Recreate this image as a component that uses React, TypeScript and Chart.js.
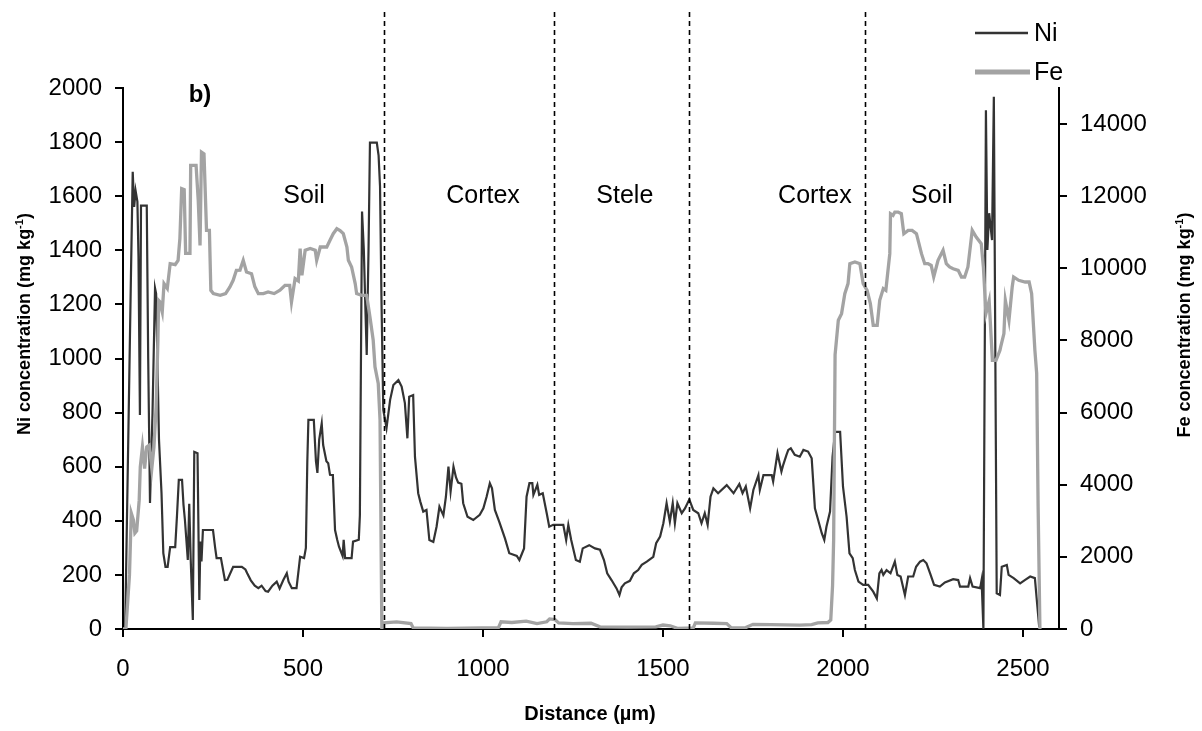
import React, { useEffect, useRef } from "react";
import { Chart, registerables } from "chart.js";

Chart.register(...registerables);

const FAMILY = '"Liberation Sans", Arial, Helvetica, sans-serif';

// ---- Data (distance in µm) ----
const niDistance = [
  0, 6, 22, 27, 31, 35, 40, 43, 47, 50, 66, 70, 75, 82, 89, 92, 100, 107, 112, 118, 124, 131, 145, 150, 155, 164,
  168, 172, 176, 180, 184, 188, 194, 198, 207, 212, 215, 218, 222, 250, 256, 260, 272, 283, 290, 306, 330, 340, 345,
  355, 366, 376, 385, 396, 403, 415, 427, 435, 445, 455, 460, 469, 482, 488, 492, 503, 508, 512, 515, 530, 536, 540,
  545, 552, 556, 565, 570, 575, 583, 589, 595, 600, 610, 613, 617, 635, 639, 655, 658, 661, 664, 669, 673, 677, 682,
  686, 705, 710, 714, 718, 723, 732, 742, 751, 765, 774, 783, 790, 795, 806, 811, 820, 826, 834, 843, 851, 862, 871,
  879, 890, 897, 904, 910, 918, 925, 931, 940, 945, 957, 973, 991, 1001, 1010, 1019, 1025, 1033, 1045, 1061, 1073,
  1094, 1101, 1114, 1121, 1129, 1137, 1140, 1151, 1156, 1166, 1177, 1184, 1195, 1223, 1231, 1237, 1245, 1258, 1269,
  1277, 1295, 1311, 1325, 1336, 1345, 1357, 1371, 1379, 1385, 1394, 1408, 1419, 1431, 1441, 1455, 1473, 1481, 1492,
  1501, 1510, 1519, 1527, 1533, 1540, 1552, 1561, 1573, 1584, 1598, 1607, 1616, 1624, 1632, 1640, 1653, 1677, 1696,
  1712, 1721, 1730, 1742, 1751, 1765, 1769, 1779, 1802, 1806, 1818, 1829, 1834, 1843, 1848, 1855, 1866, 1880, 1890,
  1903, 1913, 1922, 1931, 1941, 1948, 1954, 1964, 1971, 1978, 1992, 2000, 2010, 2018, 2027, 2033, 2043, 2056, 2070,
  2084, 2094, 2101, 2107, 2112, 2121, 2132, 2144, 2151, 2160, 2172, 2181, 2195, 2203, 2214, 2223, 2232, 2242, 2253,
  2269, 2283, 2306, 2320, 2325, 2348, 2353, 2360, 2381, 2385, 2390, 2397, 2401, 2406, 2414, 2419, 2427, 2436, 2441,
  2455, 2460, 2474, 2492, 2505, 2520, 2533, 2540, 2545,
];
const niValues = [
  0, 0, 1300, 1690, 1560, 1620, 1580, 1376, 791, 1565, 1565, 1000, 466, 800, 1260, 1240, 699, 502, 280, 230, 230, 303,
  303, 420, 551, 551, 460, 403, 330, 255, 463, 260, 33, 655, 650, 107, 323, 250, 366, 366, 300, 262, 262, 181, 182,
  230, 230, 220, 206, 180, 160, 151, 160, 140, 138, 160, 175, 150, 180, 206, 175, 151, 151, 220, 267, 262, 300, 620,
  773, 773, 620, 577, 700, 760, 680, 620, 613, 570, 569, 366, 330, 304, 270, 330, 262, 262, 323, 330, 420, 1000, 1543,
  1400, 1200, 1013, 1400, 1798, 1798, 1750, 1635, 1216, 810, 743, 847, 902, 920, 896, 835, 705, 859, 865, 637, 502,
  470, 434, 440, 329, 322, 378, 452, 420, 489, 600, 508, 600, 560, 541, 537, 465, 415, 403, 422, 446, 489, 539, 520,
  440, 397, 335, 280, 270, 255, 298, 489, 539, 539, 496, 533, 496, 502, 428, 378, 385, 385, 329, 385, 329, 255, 249,
  298, 310, 298, 293, 255, 206, 181, 150, 126, 154, 169, 178, 206, 218, 237, 249, 267, 317, 342, 391, 465, 397, 465,
  391, 465, 428, 446, 479, 440, 428, 391, 428, 385, 489, 520, 502, 532, 502, 536, 502, 527, 446, 514, 569, 514, 569,
  569, 545, 650, 582, 607, 644, 662, 668, 644, 637, 662, 656, 631, 446, 403, 354, 329, 378, 434, 637, 729, 729, 526,
  415, 280, 262, 218, 175, 163, 163, 138, 113, 206, 218, 200, 218, 206, 249, 200, 194, 126, 194, 194, 230, 249, 255,
  243, 206, 163, 157, 172, 184, 181, 157, 157, 188, 157, 151, 181, 0, 1918, 1401, 1537, 1438, 1968, 132, 126, 230,
  237, 200, 188, 169, 181, 194, 188, 83, 8,
];

const feDistance = [
  0, 8, 18, 23, 29, 33, 38, 45, 48, 54, 60, 66, 73, 80, 86, 92, 97, 99, 102, 109, 114, 123, 131, 145, 153, 158, 163,
  170, 174, 186, 188, 203, 209, 214, 218, 225, 232, 240, 244, 251, 270, 285, 297, 306, 315, 325, 334, 343, 357, 366,
  376, 390, 403, 420, 436, 450, 463, 468, 478, 487, 492, 497, 506, 520, 534, 538, 548, 566, 575, 584, 594, 603, 612,
  622, 626, 635, 645, 649, 663, 677, 686, 695, 700, 709, 714, 719, 725, 760, 800, 806, 900, 1043, 1050, 1080, 1120,
  1150, 1177, 1185, 1200, 1210, 1250, 1300, 1325, 1400, 1480, 1500, 1520, 1540, 1584, 1590, 1640, 1677, 1690, 1730,
  1750, 1800, 1880, 1913, 1930, 1958, 1966, 1971, 1974, 1978, 1987, 1996, 2005, 2014, 2019, 2033, 2047, 2056, 2067,
  2076, 2084, 2095, 2102, 2112, 2119, 2123, 2130, 2132, 2139, 2144, 2153, 2162, 2169, 2181, 2192, 2204, 2218, 2227,
  2236, 2245, 2252, 2264, 2278, 2287, 2296, 2306, 2320, 2329, 2338, 2347, 2359, 2370, 2384, 2390, 2397, 2406, 2415,
  2425, 2436, 2438, 2447, 2451, 2461, 2470, 2474, 2488, 2506, 2517, 2524, 2533, 2538, 2542, 2547,
];
const feValues = [
  0, 0, 1500, 3213, 3019, 2659, 2720, 3573, 4496, 5050, 4450, 5050, 5097, 4450, 5050, 6158, 8005, 9113, 9080, 8790,
  9576, 9444, 10130, 10100, 10222, 10822, 12208, 12180, 10415, 10415, 12853, 12853, 11884, 10637, 13222, 13176, 11053,
  11053, 9391, 9300, 9250, 9300, 9483, 9668, 9944, 9950, 10222, 9898, 9852, 9500, 9299, 9299, 9344, 9300, 9393, 9529,
  9529, 9067, 9714, 9650, 10546, 9806, 10500, 10550, 10500, 10222, 10592, 10592, 10776, 10960, 11099, 11050, 10960,
  10592, 10222, 10037, 9576, 9299, 9250, 9250, 8651, 8005, 7266, 6806, 5789, 0, 170, 200, 150, 30, 20, 40, 200, 180,
  220, 150, 200, 280, 260, 170, 150, 160, 60, 50, 60, 110, 90, 20, 30, 170, 160, 150, 30, 40, 130, 120, 110, 120, 170,
  180, 250, 1200, 2465, 7600, 8560, 8744, 9299, 9576, 10130, 10176, 10130, 9576, 9391, 9022, 8421, 8421, 9113, 9437,
  9391, 9760, 10407, 11515, 11470, 11560, 11560, 11515, 10960, 11053, 11053, 10960, 10407, 10130, 10130, 10080, 9760,
  10222, 10500, 10130, 10037, 9990, 9944, 9760, 9760, 10037, 11053, 10868, 10684, 10037, 8744, 9100, 7451, 7451, 7729,
  7820, 8190, 9113, 8560, 9483, 9760, 9668, 9621, 9621, 9299, 7729, 7090, 3388, 0,
];

const seriesNames = ["Ni", "Fe"];
const regionNames = ["Soil", "Cortex", "Stele", "Cortex", "Soil"];
const regionCenters = [503, 1000, 1394, 1922, 2247];
const regionLabelLevel = 1600; // on Ni axis
const boundaries = [725, 1196, 1571, 2061];
const panelLabel = "b)";
const panelLabelPos = [214, 1974];
const xTicks = [0, 500, 1000, 1500, 2000, 2500];
const niTicks = [0, 200, 400, 600, 800, 1000, 1200, 1400, 1600, 1800, 2000];
const feTicks = [0, 2000, 4000, 6000, 8000, 10000, 12000, 14000];
const xTitle = "Distance (µm)";
const niTitle = ["Ni concentration (mg kg", "-1", ")"];
const feTitle = ["Fe concentration (mg kg", "-1", ")"];

const NI_COLOR = "#333333";
const FE_COLOR = "#a3a3a3";

function drawRotatedTitle(ctx: CanvasRenderingContext2D, cx: number, cy: number, parts: string[], size: number) {
  ctx.save();
  ctx.translate(cx, cy);
  ctx.rotate(-Math.PI / 2);
  const fMain = `bold ${size}px ${FAMILY}`;
  const fSup = `bold ${Math.round(size * 0.62)}px ${FAMILY}`;
  ctx.font = fMain;
  const w1 = ctx.measureText(parts[0]).width;
  const w3 = ctx.measureText(parts[2]).width;
  ctx.font = fSup;
  const w2 = ctx.measureText(parts[1]).width;
  let x = -(w1 + w2 + w3) / 2;
  const base = size * 0.36;
  ctx.fillStyle = "#000";
  ctx.textAlign = "left";
  ctx.textBaseline = "alphabetic";
  ctx.font = fMain;
  ctx.fillText(parts[0], x, base);
  x += w1;
  ctx.font = fSup;
  ctx.fillText(parts[1], x, base - size * 0.42);
  x += w2;
  ctx.font = fMain;
  ctx.fillText(parts[2], x, base);
  ctx.restore();
}

const overlayPlugin = {
  id: "overlay",
  afterDatasetsDraw(chart: any) {
    const { ctx, chartArea } = chart;
    const x = chart.scales.x;
    ctx.save();
    ctx.strokeStyle = "#000";
    ctx.lineWidth = 1.6;
    ctx.setLineDash([5, 4]);
    boundaries.forEach((b) => {
      const px = Math.round(x.getPixelForValue(b)) + 0.5;
      ctx.beginPath();
      ctx.moveTo(px, 12);
      ctx.lineTo(px, chartArea.bottom);
      ctx.stroke();
    });
    ctx.restore();
  },
  afterDraw(chart: any) {
    const { ctx } = chart;
    const x = chart.scales.x;
    const yNi = chart.scales.yNi;
    ctx.save();
    ctx.fillStyle = "#000";
    ctx.textAlign = "center";
    ctx.textBaseline = "middle";
    ctx.font = `25px ${FAMILY}`;
    regionNames.forEach((name, i) => {
      ctx.fillText(name, x.getPixelForValue(regionCenters[i]), yNi.getPixelForValue(regionLabelLevel));
    });
    ctx.font = `bold 24px ${FAMILY}`;
    ctx.fillText(panelLabel, x.getPixelForValue(panelLabelPos[0]), yNi.getPixelForValue(panelLabelPos[1]));

    // legend
    ctx.lineWidth = 2.5;
    ctx.strokeStyle = NI_COLOR;
    ctx.beginPath();
    ctx.moveTo(975, 33);
    ctx.lineTo(1028, 33);
    ctx.stroke();
    ctx.lineWidth = 5;
    ctx.strokeStyle = FE_COLOR;
    ctx.beginPath();
    ctx.moveTo(975, 72);
    ctx.lineTo(1030, 72);
    ctx.stroke();
    ctx.font = `25px ${FAMILY}`;
    ctx.textAlign = "left";
    ctx.fillText(seriesNames[0], 1034, 34);
    ctx.fillText(seriesNames[1], 1034, 73);

    // axis titles
    ctx.font = `bold 20px ${FAMILY}`;
    ctx.textAlign = "center";
    ctx.fillText(xTitle, 590, 714);
    ctx.restore();
    drawRotatedTitle(ctx, 24, 324, niTitle, 18);
    drawRotatedTitle(ctx, 1184, 325, feTitle, 18);
  },
};

const plain = (v: any) => String(v);

export default function App() {
  const canvasRef = useRef<HTMLCanvasElement | null>(null);

  useEffect(() => {
    const canvas = canvasRef.current;
    if (!canvas) return;
    const tickFont = { size: 24, family: FAMILY };
    const axisGrid = { drawOnChartArea: false, drawTicks: true, tickLength: 8, color: "#000", lineWidth: 2 };
    const axisBorder = { display: true, color: "#000", width: 2 };
    const chart = new Chart(canvas, {
      type: "line",
      data: {
        datasets: [
          {
            label: seriesNames[1],
            data: feDistance.map((d, i) => ({ x: d, y: feValues[i] })),
            yAxisID: "yFe",
            borderColor: FE_COLOR,
            borderWidth: 3.3,
            pointRadius: 0,
            tension: 0,
            fill: false,
            order: 0,
          },
          {
            label: seriesNames[0],
            data: niDistance.map((d, i) => ({ x: d, y: niValues[i] })),
            yAxisID: "yNi",
            borderColor: NI_COLOR,
            borderWidth: 2.2,
            pointRadius: 0,
            tension: 0,
            fill: false,
            order: 1,
          },
        ],
      },
      options: {
        responsive: false,
        animation: false,
        events: [],
        layout: { padding: { top: 88, left: 0, right: 0, bottom: 0 } },
        plugins: { legend: { display: false }, tooltip: { enabled: false }, title: { display: false } },
        scales: {
          x: {
            type: "linear",
            position: "bottom",
            min: 0,
            max: 2600,
            afterBuildTicks: (s: any) => {
              s.ticks = xTicks.map((v) => ({ value: v }));
            },
            afterFit: (s: any) => {
              s.height = 102;
            },
            ticks: { color: "#000", font: tickFont, padding: 18, maxRotation: 0, autoSkip: false, callback: plain },
            grid: axisGrid,
            border: axisBorder,
          },
          yNi: {
            type: "linear",
            position: "left",
            min: 0,
            max: 2000,
            afterBuildTicks: (s: any) => {
              s.ticks = niTicks.map((v) => ({ value: v }));
            },
            afterFit: (s: any) => {
              s.width = 123;
            },
            ticks: { color: "#000", font: tickFont, padding: 13, autoSkip: false, callback: plain },
            grid: axisGrid,
            border: axisBorder,
          },
          yFe: {
            type: "linear",
            position: "right",
            min: 0,
            max: 15000,
            afterBuildTicks: (s: any) => {
              s.ticks = feTicks.map((v) => ({ value: v }));
            },
            afterFit: (s: any) => {
              s.width = 143;
            },
            ticks: { color: "#000", font: tickFont, padding: 13, autoSkip: false, callback: plain },
            grid: axisGrid,
            border: axisBorder,
          },
        },
      },
      plugins: [overlayPlugin],
    } as any);
    return () => chart.destroy();
  }, []);

  return (
    <div style={{ position: "fixed", left: 0, top: 0, width: 1202, height: 731, background: "#fff" }}>
      <canvas ref={canvasRef} width={1202} height={731} style={{ display: "block" }} />
    </div>
  );
}
